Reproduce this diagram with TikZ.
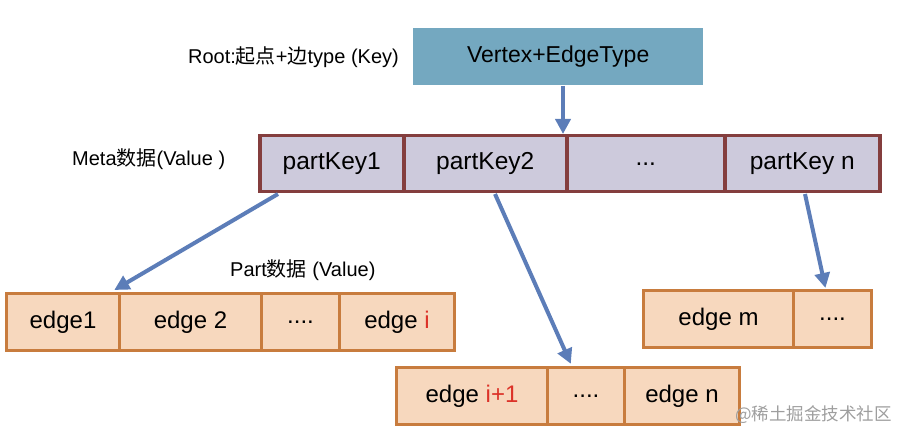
\documentclass[tikz,border=0pt]{standalone}
\usepackage{fontspec}
\setmainfont{Liberation Sans}
\newfontfamily\cjk{Noto Sans CJK SC}
\usetikzlibrary{arrows.meta,calc}
\definecolor{topfill}{RGB}{116,168,192}
\definecolor{metafill}{RGB}{205,202,220}
\definecolor{metaline}{RGB}{132,62,62}
\definecolor{edgefill}{RGB}{247,216,190}
\definecolor{edgeline}{RGB}{200,124,62}
\definecolor{arrowc}{RGB}{92,125,184}
\definecolor{redtxt}{RGB}{220,50,40}
\begin{document}
\begin{tikzpicture}[x=1pt,y=-1pt,
  metacell/.style={draw=metaline,fill=metafill,line width=3.5pt,inner sep=0pt,
    minimum height=56pt,anchor=north west,font=\fontsize{24.5}{28}\selectfont},
  edgecell/.style={draw=edgeline,fill=edgefill,line width=3pt,inner sep=0pt,
    minimum height=57pt,anchor=north west,font=\fontsize{24}{28}\selectfont},
  lbl/.style={inner sep=0pt,font=\fontsize{20}{23}\selectfont},
  arr/.style={draw=arrowc,line width=4pt,-{Triangle[width=15pt,length=15pt]},shorten >=-2pt}
]
\useasboundingbox (0,0) rectangle (912,443);
% top box
\node[fill=topfill,inner sep=0pt,minimum width=290pt,minimum height=57pt,anchor=north west,
  font=\fontsize{23}{26}\selectfont] (vtx) at (413,28) {Vertex+EdgeType};
\node[lbl,anchor=east] (rootlbl) at (399,57) {Root:{\cjk 起点}+{\cjk 边}type (Key)};
% meta row
\node[metacell,minimum width=144pt] (m1) at (258,134) {partKey1};
\node[metacell,minimum width=163pt] (m2) at (402,134) {partKey2};
\node[metacell,minimum width=158pt] (m3) at (565,134) {...};
\node[metacell,minimum width=155pt] (m4) at (723,134) {partKey n};
\node[lbl,anchor=west] (metalbl) at (72,159) {Meta{\cjk 数据}(Value )};
% left row
\node[edgecell,minimum width=113pt] (e1) at (5,292) {edge1};
\node[edgecell,minimum width=142pt] (e2) at (118,292) {edge 2};
\node[edgecell,minimum width=78pt] (e3) at (260,292) {....};
\node[edgecell,minimum width=115pt] (e4) at (338,292) {edge \textcolor{redtxt}{i}};
\node[lbl,anchor=west] (partlbl) at (230,270) {Part{\cjk 数据} (Value)};
% middle row
\node[edgecell,minimum width=151pt] (n1) at (395,366) {edge \textcolor{redtxt}{i+1}};
\node[edgecell,minimum width=77pt] (n2) at (546,366) {....};
\node[edgecell,minimum width=115pt] (n3) at (623,366) {edge n};
% right row
\node[edgecell,minimum width=150pt] (r1) at (642,289) {edge m};
\node[edgecell,minimum width=78pt] (r2) at (792,289) {....};
% watermark
\node[inner sep=0pt,anchor=west,text=black!38,font=\cjk\fontsize{17.5}{20}\selectfont] (wm) at (735,415) {@稀土掘金技术社区};
% arrows
\coordinate (a0s) at (563,86);
\coordinate (a0e) at (563,132);
\draw[arr] (a0s) -- (a0e);
\coordinate (a1s) at (278,194);
\coordinate (a1e) at (116,289);
\draw[arr] (a1s) -- (a1e);
\coordinate (a2s) at (495,194);
\coordinate (a2e) at (570,362);
\draw[arr] (a2s) -- (a2e);
\coordinate (a3s) at (805,194);
\coordinate (a3e) at (825,286);
\draw[arr] (a3s) -- (a3e);
\end{tikzpicture}
\end{document}
